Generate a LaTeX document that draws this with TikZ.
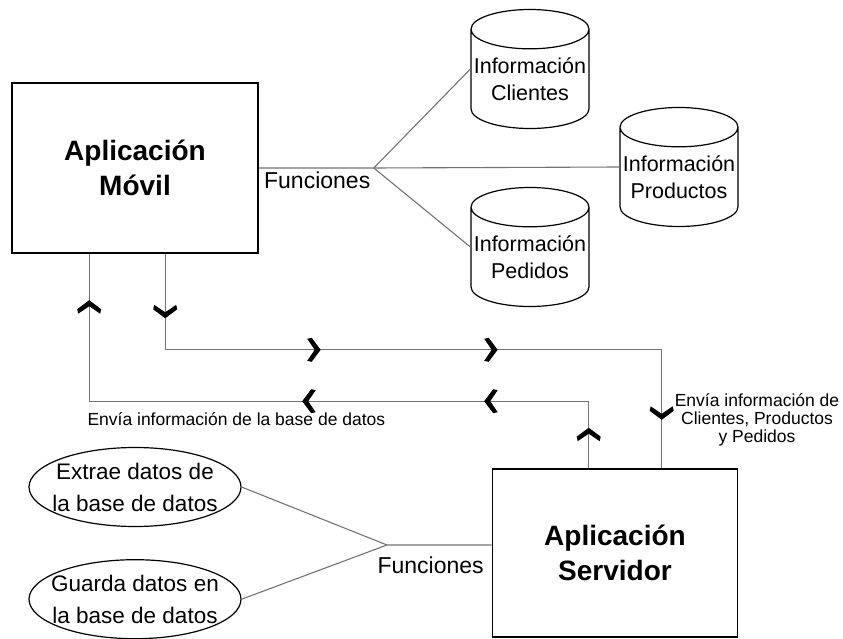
\documentclass[tikz,border=0pt]{standalone}
\usepackage{fontspec}
\setmainfont{Liberation Sans}
\usepackage{tikz}
\usetikzlibrary{positioning, arrows.meta, shapes.geometric, decorations.markings}
\definecolor{line_gray}{gray}{0.45}
\tikzstyle{app_box} = [rectangle, draw, line width=1.6pt, align=center, font=\fontsize{28}{35}\selectfont\bfseries]
\tikzstyle{db_cyl} = [cylinder, draw, line width=1.2pt, shape border rotate=90, shape aspect=0.35, minimum width=118pt, minimum height=119pt, inner sep=0pt, align=center, anchor=shape center, font=\fontsize{21.5}{27}\selectfont]
\tikzstyle{func_ellipse} = [ellipse, draw, line width=1.2pt, minimum width=212pt, minimum height=79pt, inner sep=-30pt, align=center, font=\fontsize{22.5}{32}\selectfont]
\tikzstyle{func_text} = [font=\fontsize{23}{26}\selectfont]
\tikzstyle{note_text} = [align=center, font=\fontsize{17.5}{18}\selectfont]
\tikzstyle{link} = [draw=line_gray, line width=1.1pt]
\tikzstyle{flow} = [draw=line_gray, line width=1.3pt, postaction={decorate}]
% thick chevron drawn on the flow lines
\newcommand{\chevronmark}{\fill[black] (1.5pt,0pt) -- (-7.5pt,12pt) -- (-12pt,11pt) -- (-4.5pt,0pt) -- (-12pt,-11pt) -- (-7.5pt,-12pt) -- cycle;}

\begin{document}
\begin{tikzpicture}[x=1pt, y=-1pt]
        \useasboundingbox (0,0) rectangle (843,639);

        % apps
        \node (movil) [app_box, minimum width=246pt, minimum height=170pt] at (135,168) {Aplicación\\Móvil};
        \node (servidor) [app_box, minimum width=245pt, minimum height=168pt] at (615,553) {Aplicación\\Servidor};

        % databases
        \coordinate [right=115pt of movil.east] (rama_movil);
        \node (clientes) [db_cyl] at (530,69) {Información\\Clientes};
        \node (productos) [db_cyl] at (679,167) {Información\\Productos};
        \node (pedidos) [db_cyl] at (530,247) {Información\\Pedidos};

        % server functions
        \node (extrae) [func_ellipse] at (135,487) {Extrae datos de\\la base de datos};
        \node (guarda) [func_ellipse, below=32pt of extrae] {Guarda datos en\\la base de datos};
        \coordinate (rama_servidor) at (387,545);

        \draw [link] (movil.east) -- (rama_movil) -- (productos.shape center -| productos.west);
        \draw [link] (rama_movil) -- (clientes.shape center -| clientes.west);
        \draw [link] (rama_movil) -- (pedidos.shape center -| pedidos.west);
        \node [func_text, anchor=north east] at (rama_movil) {Funciones};

        \draw [link] (extrae.east) -- (rama_servidor);
        \draw [link] (guarda.east) -- (rama_servidor) -- (rama_servidor -| servidor.west);
        \node [func_text, anchor=north west, xshift=-13pt, yshift=-8pt] at (rama_servidor) {Funciones};

        % movil -> servidor
        \draw [flow, decoration={markings,
                mark=at position 63pt with {\chevronmark},
                mark=at position 250pt with {\chevronmark},
                mark=at position 427pt with {\chevronmark},
                mark=at position 661pt with {\chevronmark}}]
            ([xshift=154pt]movil.south west) -- ++(0,96) -| ([xshift=170pt]servidor.north west);
        % servidor -> movil
        \draw [flow, decoration={markings,
                mark=at position 39pt with {\chevronmark},
                mark=at position 170pt with {\chevronmark},
                mark=at position 352pt with {\chevronmark},
                mark=at position 666pt with {\chevronmark}}]
            ([xshift=97pt]servidor.north west) -- ++(0,-67) -| ([xshift=78pt]movil.south west);

        \node (nota_movil) [note_text, anchor=west] at (84,419) {Envía información de la base de datos};
        \node (nota_servidor) [note_text] at (757,420) {Envía información de\\Clientes, Productos\\y Pedidos};
    \end{tikzpicture}
\end{document}
